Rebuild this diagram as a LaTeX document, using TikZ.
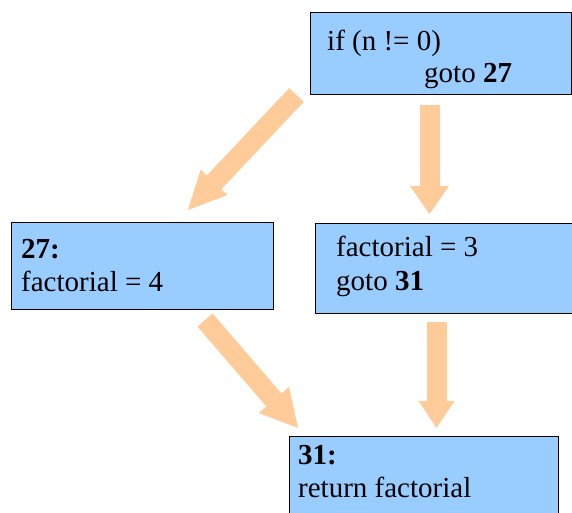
\documentclass[tikz,border=0pt]{standalone}
\usepackage{fontspec}
\setmainfont{Liberation Serif}
\usetikzlibrary{arrows.meta}
\definecolor{boxblue}{HTML}{99CCFF}
\definecolor{arroworange}{HTML}{FFCC99}
\begin{document}
\begin{tikzpicture}[x=1pt,y=-1pt,
  box/.style={draw=black, line width=1.3pt, fill=boxblue, inner sep=0pt, anchor=north west},
  txt/.style={anchor=base west, inner sep=0pt, font=\fontsize{29}{33}\selectfont},
  fatarrow/.style 2 args={draw=arroworange, line width=20pt,
    -{Triangle[width=#1pt,length=#2pt,line width=0pt 0]}}]
\useasboundingbox (0,0) rectangle (572,512);
% boxes
\node[box, minimum width=261pt, minimum height=82pt] (b1) at (310,12) {};
\node[box, minimum width=262pt, minimum height=87pt] (b2) at (11,222) {};
\node[box, minimum width=270pt, minimum height=90pt] (b3) at (315,223) {};
\node[box, minimum width=269pt, minimum height=100pt] (b4) at (289,436) {};
% texts
\node[txt] (t1a) at (327,50) {if (n != 0)};
\node[txt] (t1b) at (424,82) {goto \textbf{27}};
\node[txt] (t2a) at (21,258) {\textbf{27:}};
\node[txt] (t2b) at (21,291) {factorial = 4};
\node[txt] (t3a) at (336,256) {factorial = 3};
\node[txt] (t3b) at (336,290) {goto \textbf{31}};
\node[txt] (t4a) at (298,464) {\textbf{31:}};
\node[txt] (t4b) at (298,497) {return factorial};
% arrow end points
\coordinate (a1s) at (296.5,95);
\coordinate (a1e) at (188,210);
\coordinate (a2s) at (429.5,105);
\coordinate (a2e) at (429.5,214);
\coordinate (a3s) at (205,320);
\coordinate (a3e) at (298,428);
\coordinate (a4s) at (436.5,322);
\coordinate (a4e) at (436.5,428);
% arrows
\draw[fatarrow={37}{38}] (a1s) -- (a1e);
\draw[fatarrow={39}{28}] (a2s) -- (a2e);
\draw[fatarrow={40}{37}] (a3s) -- (a3e);
\draw[fatarrow={36}{27}] (a4s) -- (a4e);
\end{tikzpicture}
\end{document}
